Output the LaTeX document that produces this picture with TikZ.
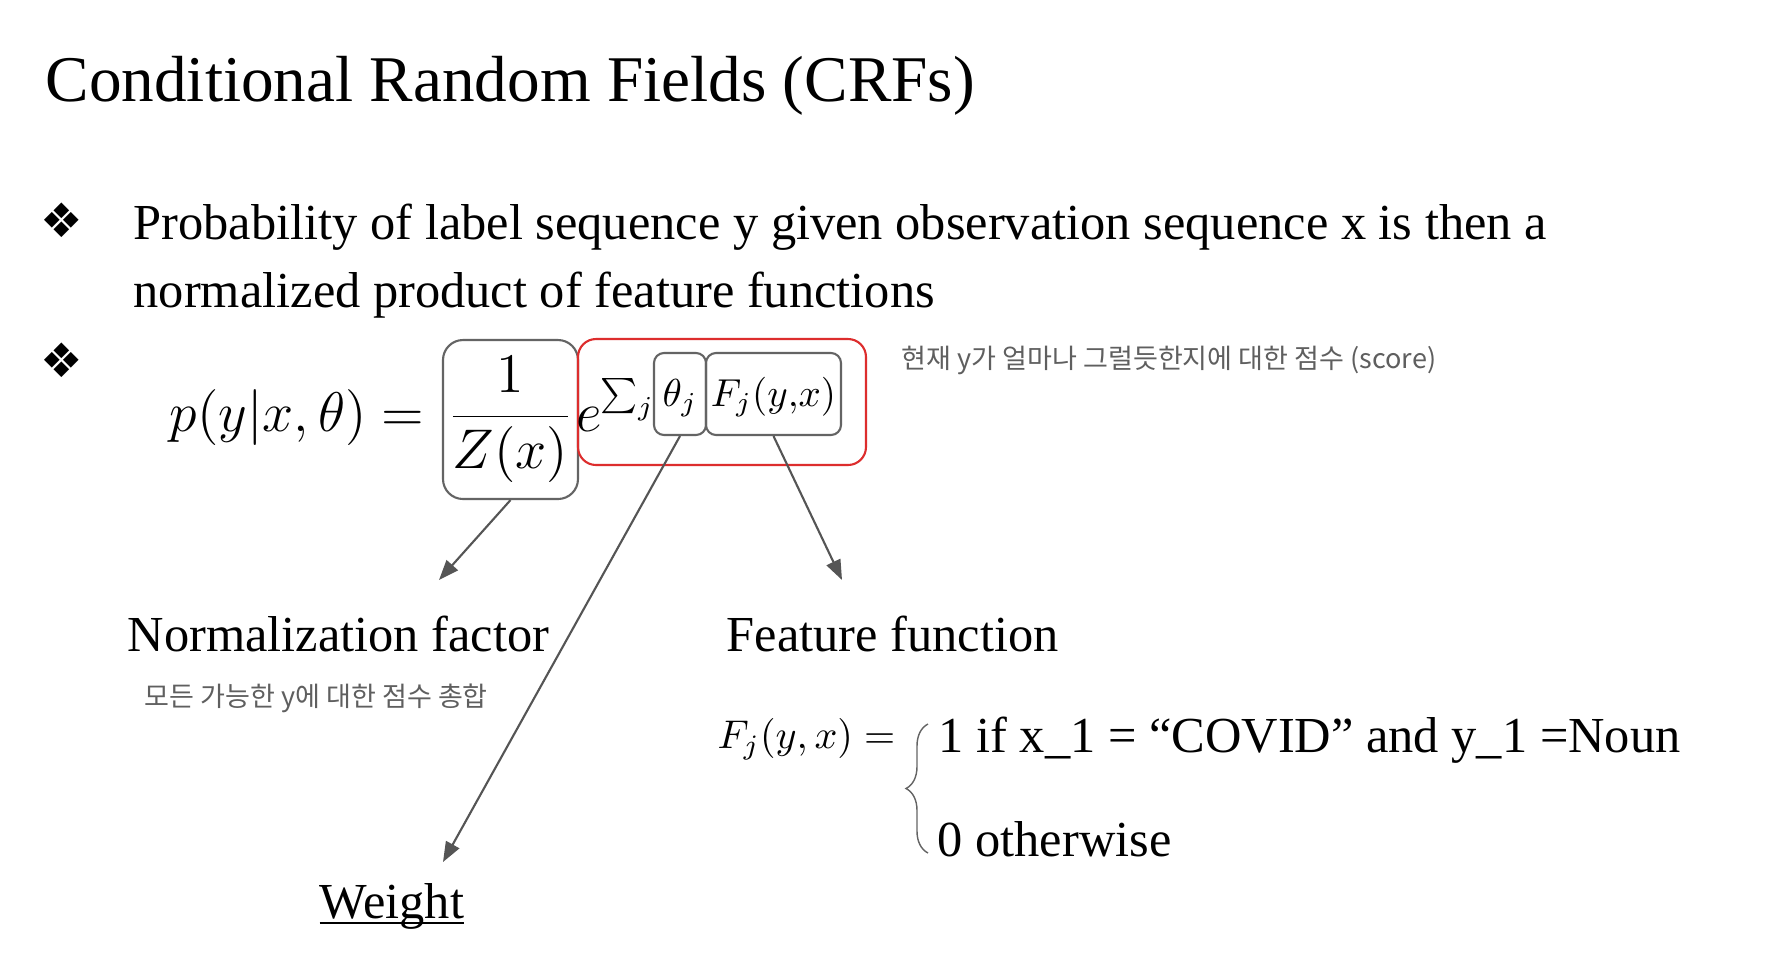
\documentclass[tikz,border=0pt]{standalone}
\usepackage{fix-cm}
\usepackage[no-math]{fontspec}
\setmainfont{Liberation Serif}
\newfontfamily\krfont{Noto Sans CJK KR}
\newfontfamily\dingfont{DejaVu Sans}
\definecolor{boxgray}{RGB}{100,100,100}
\definecolor{scorered}{RGB}{221,45,45}
\definecolor{notegray}{RGB}{95,95,95}
\definecolor{arrowgray}{RGB}{85,85,85}
\usetikzlibrary{arrows.meta,decorations.pathreplacing}
\tikzset{
  slide/.style={inner sep=0pt,anchor=base west,font=\fontsize{14.35}{17}\selectfont},
  bigmath/.style={inner sep=0pt,font=\fontsize{15.9}{19}\selectfont},
  supmath/.style={inner sep=0pt,font=\fontsize{11.1}{13}\selectfont},
  hangulnote/.style={inner sep=0pt,anchor=west,text=notegray,font=\krfont\fontsize{7.7}{9}\selectfont},
  dingmark/.style={inner sep=0pt,font=\dingfont\fontsize{13.5}{15}\selectfont},
  termbox/.style={draw=boxgray,line width=0.6pt,rounded corners=1mm,inner sep=0pt,
        anchor=base,text height=5.3mm,text depth=2.9mm},
  pointer/.style={draw=arrowgray,line width=0.6pt,-{Triangle[length=2mm,width=1.5mm]}}
}

\begin{document}
\begin{tikzpicture}
  \path[use as bounding box,fill=white] (0,0) rectangle (17.66,-9.72);
  % Title
  \node[anchor=base west,inner sep=0pt,font=\fontsize{18.55}{22}\selectfont]
        (title) at (0.45,-1.01) {Conditional Random Fields (CRFs)};
  % Bullet 1
  \node[dingmark] (bul1) at (0.62,-2.20) {❖};
  \node[slide] (txt1) at (1.33,-2.39) {Probability of label sequence y given observation sequence x is then a};
  \node[slide] (txt2) at (1.33,-3.07) {normalized product of feature functions};
  % Bullet 2
  \node[dingmark] (bul2) at (0.62,-3.60) {❖};
  % Equation
  \node[bigmath,anchor=base west] (lhs) at (1.69,-4.31) {$p(y|x,\theta) =$};
  \node[bigmath,draw=boxgray,line width=0.6pt,rounded corners=2mm,
        minimum width=1.35cm,minimum height=1.59cm]
        (fracbox) at (5.105,-4.195) {$\displaystyle\frac{1}{Z(x)}$};
  \node[draw=scorered,line width=0.6pt,rounded corners=1.8mm,inner sep=0pt,
        minimum width=2.88cm,minimum height=1.26cm] (scorebox) at (7.22,-4.02) {};
  \node[bigmath,anchor=base west] (expo) at (5.76,-4.31) {$e$};
  \node[supmath,anchor=base west] (sumj) at (6.00,-4.06) {$\sum_j$};
  \node[supmath,termbox,minimum width=0.52cm] (thetabox) at (6.80,-4.06) {$\theta_j$};
  \node[supmath,termbox,minimum width=1.35cm] (fbox) at (7.735,-4.06) {$F_j(y{,}x)$};
  % Notes
  \node[hangulnote] (scorenote) at (9.01,-3.60) {현재 y가 얼마나 그럴듯한지에 대한 점수 (score)};
  % Labels
  \node[slide] (normlbl) at (1.27,-6.51) {Normalization factor};
  \node[hangulnote] (sumnote) at (1.44,-6.98) {모든 가능한 y에 대한 점수 총합};
  \node[slide] (featlbl) at (7.26,-6.51) {Feature function};
  \node[slide] (weightlbl) at (3.19,-9.18) {\underline{\smash{Weight}}};
  % Feature function definition
  \node[supmath,anchor=base west,font=\fontsize{11.4}{13}\selectfont]
        (fjdef) at (7.17,-7.48) {$F_j(y,x) =$};
  \node[slide] (case1) at (9.38,-7.52) {1 if x\_1 = “COVID” and y\_1 =Noun};
  \node[slide] (case2) at (9.37,-8.56) {0 otherwise};
  \draw[boxgray,line width=0.4pt,decorate,decoration={brace,amplitude=2.2mm}]
        (9.28,-8.53) -- (9.28,-7.24);
  % Arrows
  \coordinate (normtip) at (4.39,-5.80);
  \coordinate (weighttip) at (4.43,-8.62);
  \coordinate (feattip) at (8.42,-5.80);
  \draw[pointer] (fracbox.south) -- (normtip);
  \draw[pointer] (thetabox.south) -- (weighttip);
  \draw[pointer] (fbox.south) -- (feattip);
\end{tikzpicture}
\end{document}
